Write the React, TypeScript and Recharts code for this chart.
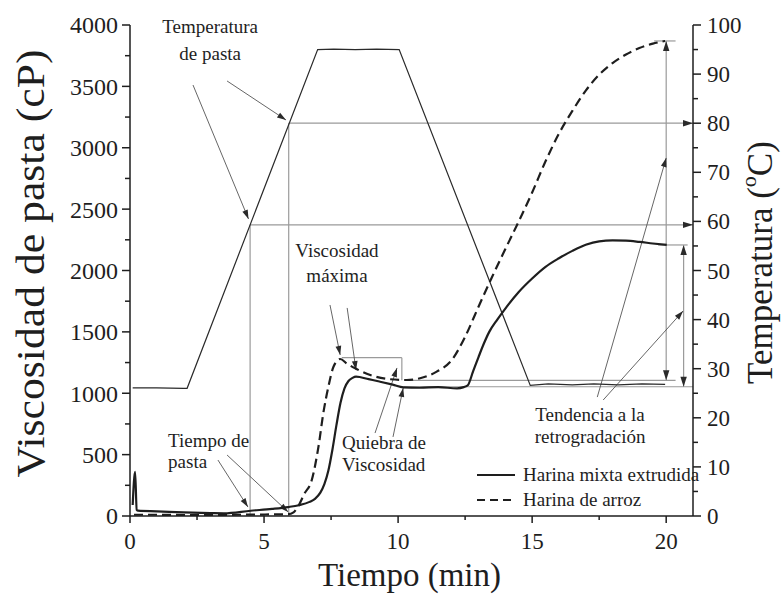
import React from "react";
import {
  ComposedChart,
  Line,
  XAxis,
  YAxis,
  ReferenceLine,
  ReferenceDot,
  Legend,
} from "recharts";

const SERIF = '"Liberation Serif", "Times New Roman", serif';
const INK = "#1e1e1e";
const GUIDE = "#9a9a9a";
const POINTER = "#555555";

// --- curves ---------------------------------------------------------------
// temperature programme (°C, right axis)
const tempTime = [0.1, 1.0, 2.0, 2.13, 7.0, 7.6, 8.4, 9.2, 10.04, 14.93, 15.6, 16.5, 17.3, 18.2, 19.1, 19.96];
const tempValue = [26.1, 26.1, 26.0, 26.0, 95.0, 95.1, 95.0, 95.1, 95.0, 26.6, 26.9, 26.7, 26.9, 26.7, 26.9, 26.8];

// Harina mixta extrudida (cP)
const mixtaTime = [
  0.1, 0.19, 0.25, 0.3, 1.0, 2.0, 3.0, 3.5, 4.5, 5.3, 5.9, 6.3, 6.7, 6.9, 7.1, 7.25, 7.4, 7.55,
  7.7, 7.85, 8.0, 8.15, 8.3, 8.43, 8.9, 9.33, 9.8, 10.2, 10.8, 11.5, 12.2, 12.45, 12.6, 12.8,
  13.0, 13.2, 13.4, 13.7, 14.0, 14.5, 15.0, 15.5, 16.0, 16.5, 17.0, 17.5, 18.0, 18.5, 19.0, 19.5, 20.02,
];
const mixtaVisc = [
  90, 360, 50, 43, 38, 30, 24, 22, 43, 58, 73, 88, 115, 140, 190, 260, 370, 540,
  740, 920, 1040, 1100, 1125, 1135, 1115, 1094, 1070, 1048, 1045, 1050, 1040, 1050, 1065, 1180,
  1295, 1405, 1500, 1600, 1690, 1825, 1935, 2030, 2100, 2160, 2210, 2238, 2245, 2243, 2233, 2220, 2208,
];

// Harina de arroz (cP)
const arrozTime = [
  0.15, 1, 2, 3, 4, 5, 5.9, 6.1, 6.3, 6.5, 6.78, 7.03, 7.21, 7.4, 7.59, 7.84, 8.1, 8.4, 8.96, 9.7,
  10.32, 10.82, 11.44, 12.0, 12.5, 13.0, 13.5, 14.0, 14.5, 15.0, 15.5, 16.0, 16.5, 17.0, 17.5,
  18.0, 18.5, 19.0, 19.5, 19.96,
];
const arrozVisc = [
  10, 10, 8, 8, 10, 12, 15, 30, 90, 180, 293, 565, 837, 1053, 1216, 1279, 1240, 1203, 1149, 1114,
  1108, 1122, 1176, 1270, 1460, 1705, 1945, 2175, 2400, 2635, 2890, 3115, 3300, 3465, 3595,
  3690, 3760, 3812, 3848, 3870,
];

const seriesNames = ["Harina mixta extrudida", "Harina de arroz"];

const timeTicks = [0, 2.5, 5, 7.5, 10, 12.5, 15, 17.5, 20];
const viscTicks = [0, 250, 500, 750, 1000, 1250, 1500, 1750, 2000, 2250, 2500, 2750, 3000, 3250, 3500, 3750, 4000];
const tempTicks = [0, 5, 10, 15, 20, 25, 30, 35, 40, 45, 50, 55, 60, 65, 70, 75, 80, 85, 90, 95, 100];

const tempData = tempTime.map((t, i) => ({ t, T: tempValue[i] }));
const mixtaData = mixtaTime.map((t, i) => ({ t, v: mixtaVisc[i] }));
const arrozData = arrozTime.map((t, i) => ({ t, v: arrozVisc[i] }));

// --- annotations (data coordinates) ----------------------------------------
type Head = "none" | "end" | "both";
type Seg = { axis: "left" | "right"; a: [number, number]; b: [number, number]; head: Head; kind: "guide" | "pointer" };

const segments: Seg[] = [
  // pasting temperature guides
  { axis: "right", a: [5.92, 80], b: [21, 80], head: "end", kind: "guide" },
  { axis: "right", a: [4.48, 59.3], b: [21, 59.3], head: "end", kind: "guide" },
  { axis: "right", a: [4.48, 0], b: [4.48, 59.3], head: "none", kind: "guide" },
  { axis: "right", a: [5.92, 0], b: [5.92, 80], head: "none", kind: "guide" },
  // breakdown
  { axis: "left", a: [7.9, 1290], b: [10.14, 1290], head: "none", kind: "guide" },
  { axis: "left", a: [10.14, 1290], b: [10.14, 1105], head: "none", kind: "guide" },
  { axis: "left", a: [10.3, 1105], b: [20.35, 1105], head: "none", kind: "guide" },
  { axis: "left", a: [10.2, 1053], b: [21, 1053], head: "none", kind: "guide" },
  // setback brackets
  { axis: "left", a: [20.0, 1105], b: [20.0, 3870], head: "both", kind: "guide" },
  { axis: "left", a: [19.55, 3870], b: [20.35, 3870], head: "none", kind: "guide" },
  { axis: "left", a: [20.65, 1053], b: [20.65, 2208], head: "both", kind: "guide" },
  { axis: "left", a: [19.7, 2208], b: [20.8, 2208], head: "none", kind: "guide" },
  // pointers from labels
  { axis: "left", a: [2.35, 3511], b: [4.42, 2420], head: "end", kind: "pointer" },
  { axis: "left", a: [3.62, 3544], b: [5.82, 3226], head: "end", kind: "pointer" },
  { axis: "left", a: [7.46, 1719], b: [7.84, 1312], head: "end", kind: "pointer" },
  { axis: "left", a: [8.1, 1695], b: [8.43, 1189], head: "end", kind: "pointer" },
  { axis: "left", a: [3.28, 456], b: [4.4, 73], head: "end", kind: "pointer" },
  { axis: "left", a: [3.62, 497], b: [5.9, 33], head: "end", kind: "pointer" },
  { axis: "left", a: [9.14, 676], b: [9.96, 1206], head: "end", kind: "pointer" },
  { axis: "left", a: [9.81, 644], b: [10.19, 1043], head: "end", kind: "pointer" },
  { axis: "left", a: [17.43, 969], b: [20.0, 2917], head: "end", kind: "pointer" },
  { axis: "left", a: [17.65, 945], b: [20.63, 1670], head: "end", kind: "pointer" },
];

type Note = { t: number; v: number; lines: string[]; anchor: "start" | "middle"; gap: number };
const notes: Note[] = [
  { t: 2.99, v: 3935, lines: ["Temperatura", "de pasta"], anchor: "middle", gap: 27 },
  { t: 7.72, v: 2110, lines: ["Viscosidad", "máxima"], anchor: "middle", gap: 25 },
  { t: 1.42, v: 562, lines: ["Tiempo de", "pasta"], anchor: "start", gap: 21 },
  { t: 7.91, v: 546, lines: ["Quiebra de", "Viscosidad"], anchor: "start", gap: 22 },
  { t: 17.16, v: 774, lines: ["Tendencia a la", "retrogradación"], anchor: "middle", gap: 22 },
];

function arrowShape(head: Head, color: string, width: number, size: number) {
  return (p: any) => {
    const { x1, y1, x2, y2 } = p;
    const len = Math.hypot(x2 - x1, y2 - y1) || 1;
    const ux = (x2 - x1) / len;
    const uy = (y2 - y1) / len;
    const tri = (tx: number, ty: number, dx: number, dy: number) => {
      const bx = tx - dx * size;
      const by = ty - dy * size;
      const hw = size * 0.32;
      return `${tx},${ty} ${bx - dy * hw},${by + dx * hw} ${bx + dy * hw},${by - dx * hw}`;
    };
    return (
      <g>
        <line x1={x1} y1={y1} x2={x2} y2={y2} stroke={color} strokeWidth={width} />
        {head !== "none" && <polygon points={tri(x2, y2, ux, uy)} fill="#2a2a2a" />}
        {head === "both" && <polygon points={tri(x1, y1, -ux, -uy)} fill="#2a2a2a" />}
      </g>
    );
  };
}

function noteShape(n: Note) {
  return (p: any) => (
    <text x={p.cx} y={p.cy} textAnchor={n.anchor} style={{ fontFamily: SERIF, fontSize: 19 }} fill={INK}>
      {n.lines.map((l, i) => (
        <tspan key={i} x={p.cx} dy={i === 0 ? 0 : n.gap}>
          {l}
        </tspan>
      ))}
    </text>
  );
}

// --- axis ticks --------------------------------------------------------------
function ViscTick(props: any) {
  const { x, y, payload } = props;
  const major = payload.value % 500 === 0;
  return (
    <g>
      <line x1={x - (major ? 8 : 5)} x2={x} y1={y} y2={y} stroke={INK} strokeWidth={1.5} />
      {major && (
        <text x={x - 12} y={y} dy="0.35em" textAnchor="end" style={{ fontFamily: SERIF, fontSize: 24 }} fill={INK}>
          {payload.value}
        </text>
      )}
    </g>
  );
}

function TempTick(props: any) {
  const { x, y, payload } = props;
  const major = payload.value % 10 === 0;
  return (
    <g>
      <line x1={x} x2={x + (major ? 8 : 5)} y1={y} y2={y} stroke={INK} strokeWidth={1.5} />
      {major && (
        <text x={x + 14} y={y} dy="0.35em" textAnchor="start" style={{ fontFamily: SERIF, fontSize: 23 }} fill={INK}>
          {payload.value}
        </text>
      )}
    </g>
  );
}

function TimeTick(props: any) {
  const { x, y, payload } = props;
  const major = payload.value % 5 === 0;
  return (
    <g>
      <line x1={x} x2={x} y1={y} y2={y + (major ? 7 : 4)} stroke={INK} strokeWidth={1.5} />
      {major && (
        <text x={x} y={y + 33} textAnchor="middle" style={{ fontFamily: SERIF, fontSize: 23 }} fill={INK}>
          {payload.value}
        </text>
      )}
    </g>
  );
}

function LegendBox({ payload }: any) {
  const dash: Record<string, string | undefined> = { "Harina de arroz": "8 5" };
  const items = seriesNames.filter((n) => (payload || []).some((p: any) => p.value === n));
  return (
    <div style={{ fontFamily: SERIF, fontSize: 19, color: INK }}>
      {items.map((name) => (
        <div key={name} style={{ display: "flex", alignItems: "center", height: 25, whiteSpace: "nowrap" }}>
          <svg width={46} height={10} style={{ flex: "none" }}>
            <line x1={0} x2={38} y1={5} y2={5} stroke={INK} strokeWidth={2} strokeDasharray={dash[name]} />
          </svg>
          <span>{name}</span>
        </div>
      ))}
    </div>
  );
}

export default function App() {
  return (
    <div style={{ position: "absolute", left: 0, top: 0, background: "#fff" }}>
      <ComposedChart width={782} height={601} margin={{ top: 25, right: 0, bottom: 0, left: 0 }}>
        <XAxis
          type="number"
          dataKey="t"
          domain={[0, 21]}
          ticks={timeTicks}
          interval={0}
          height={85}
          tickSize={0}
          tickMargin={0}
          tickLine={false}
          tick={<TimeTick />}
          axisLine={{ stroke: INK, strokeWidth: 1.5 }}
          allowDataOverflow
          label={(p: any) => {
            const vb = p.viewBox || {};
            return (
              <text x={vb.x + vb.width / 2 - 2} y={vb.y + 70} textAnchor="middle" style={{ fontFamily: SERIF, fontSize: 33 }} fill={INK}>
                Tiempo (min)
              </text>
            );
          }}
        />
        <YAxis
          yAxisId="left"
          domain={[0, 4000]}
          ticks={viscTicks}
          interval={0}
          width={130}
          tickSize={0}
          tickMargin={0}
          tickLine={false}
          tick={<ViscTick />}
          axisLine={{ stroke: INK, strokeWidth: 1.5 }}
          allowDataOverflow
          label={(p: any) => {
            const vb = p.viewBox || {};
            const cx = vb.x + 30;
            const cy = vb.y + vb.height / 2 - 7;
            return (
              <text
                x={cx}
                y={cy}
                transform={`rotate(-90, ${cx}, ${cy})`}
                textAnchor="middle"
                dominantBaseline="central"
                textLength={428}
                lengthAdjust="spacingAndGlyphs"
                style={{ fontFamily: SERIF, fontSize: 40 }}
                fill={INK}
              >
                Viscosidad de pasta (cP)
              </text>
            );
          }}
        />
        <YAxis
          yAxisId="right"
          orientation="right"
          domain={[0, 100]}
          ticks={tempTicks}
          interval={0}
          width={89}
          tickSize={0}
          tickMargin={0}
          tickLine={false}
          tick={<TempTick />}
          axisLine={{ stroke: INK, strokeWidth: 1.5 }}
          allowDataOverflow
          label={(p: any) => {
            const vb = p.viewBox || {};
            const cx = vb.x + 67;
            const cy = vb.y + vb.height / 2 - 8;
            return (
              <text
                x={cx}
                y={cy}
                transform={`rotate(-90, ${cx}, ${cy})`}
                textAnchor="middle"
                dominantBaseline="central"
                style={{ fontFamily: SERIF, fontSize: 35 }}
                fill={INK}
              >
                Temperatura (
                <tspan style={{ fontSize: 22 }} dy={-12}>o</tspan>
                <tspan dy={12}>C)</tspan>
              </text>
            );
          }}
        />

        {segments.map((s, i) => (
          <ReferenceLine
            key={`seg-${i}`}
            yAxisId={s.axis}
            segment={[{ x: s.a[0], y: s.a[1] }, { x: s.b[0], y: s.b[1] }]}
            ifOverflow="visible"
            shape={
              s.kind === "guide"
                ? arrowShape(s.head, GUIDE, 1.2, 10)
                : arrowShape(s.head, POINTER, 0.9, 9)
            }
          />
        ))}

        {notes.map((n, i) => (
          <ReferenceDot key={`note-${i}`} yAxisId="left" x={n.t} y={n.v} r={0} ifOverflow="visible" shape={noteShape(n)} />
        ))}

        <Line
          yAxisId="right"
          data={tempData}
          dataKey="T"
          type="linear"
          stroke="#2a2a2a"
          strokeWidth={1.2}
          dot={false}
          legendType="none"
          isAnimationActive={false}
        />
        <Line
          yAxisId="left"
          data={mixtaData}
          dataKey="v"
          name={seriesNames[0]}
          type="monotone"
          stroke={INK}
          strokeWidth={2.2}
          dot={false}
          isAnimationActive={false}
        />
        <Line
          yAxisId="left"
          data={arrozData}
          dataKey="v"
          name={seriesNames[1]}
          type="monotone"
          stroke={INK}
          strokeWidth={2.2}
          strokeDasharray="9 5"
          dot={false}
          isAnimationActive={false}
        />
        <Legend
          layout="horizontal"
          verticalAlign="middle"
          align="center"
          wrapperStyle={{ left: 477, top: 462, width: 240 }}
          content={<LegendBox />}
        />
      </ComposedChart>
    </div>
  );
}
